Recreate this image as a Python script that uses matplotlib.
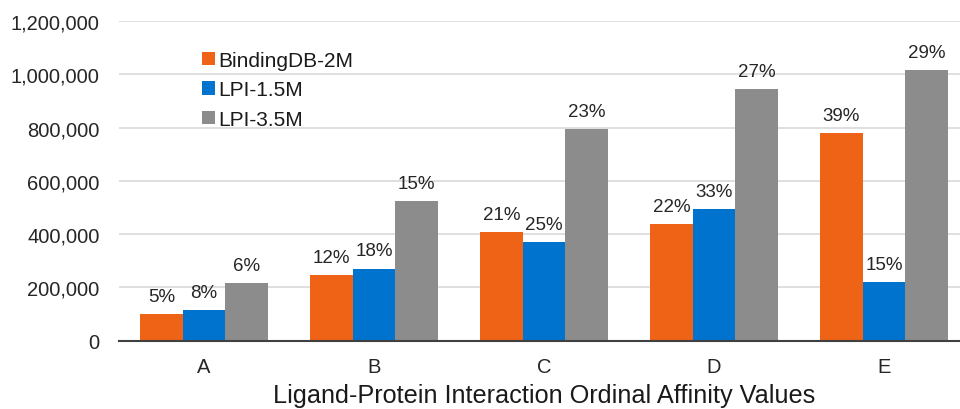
import numpy as np
import matplotlib
matplotlib.use('Agg')
import matplotlib.pyplot as plt
from matplotlib.patches import Patch
from matplotlib.ticker import FuncFormatter

plt.rcParams['font.family'] = ['Liberation Sans', 'DejaVu Sans']

# data
categories = ['A', 'B', 'C', 'D', 'E']
series_names = ['BindingDB-2M', 'LPI-1.5M', 'LPI-3.5M']
bindingdb_2m = [99000, 245000, 409000, 437000, 779000]
lpi_1_5m = [114000, 271000, 371000, 493000, 220000]
lpi_3_5m = [216000, 525000, 796000, 943000, 1016000]
bindingdb_pct = ['5%', '12%', '21%', '22%', '39%']
lpi_1_5m_pct = ['8%', '18%', '25%', '33%', '15%']
lpi_3_5m_pct = ['6%', '15%', '23%', '27%', '29%']

colors = ['#EE6316', '#0073CF', '#8C8C8C']

W, H = 960, 410
fig = plt.figure(figsize=(W / 100, H / 100), dpi=100)
left, right, top, bottom = 119, 969, 22, 341.7
ax = fig.add_axes([left / W, 1 - bottom / H, (right - left) / W, (bottom - top) / H])

x = np.arange(len(categories))
w = 0.25
series = [bindingdb_2m, lpi_1_5m, lpi_3_5m]
pcts = [bindingdb_pct, lpi_1_5m_pct, lpi_3_5m_pct]
for i, (vals, labs) in enumerate(zip(series, pcts)):
    bars = ax.bar(x + (i - 1) * w, vals, width=w, color=colors[i], zorder=3)
    ax.bar_label(bars, labels=labs, padding=6.5, fontsize=13.5, color='#262626')

ax.set_xlim(-0.5, 4.5)
ax.set_ylim(0, 1200000)
ax.set_yticks(np.arange(0, 1200001, 200000))
ax.yaxis.set_major_formatter(FuncFormatter(lambda v, p: f'{int(v):,}'))
ax.set_xticks(x)
ax.set_xticklabels(categories)
ax.tick_params(axis='both', length=0, labelsize=14.5, colors='#262626')
ax.tick_params(axis='x', pad=12)
ax.tick_params(axis='y', pad=14)
ax.grid(axis='y', color='#D9D9D9', linewidth=1.2, zorder=0)
for s in ['top', 'right', 'left']:
    ax.spines[s].set_visible(False)
ax.spines['bottom'].set_color('#404040')
ax.spines['bottom'].set_linewidth(1.5)
ax.spines['bottom'].set_zorder(4)

ax.set_xlabel('Ligand-Protein Interaction Ordinal Affinity Values', fontsize=18.2, color='#1a1a1a', labelpad=5)

handles = [Patch(facecolor=c, edgecolor='none') for c in colors]
fig.legend(handles, series_names, loc='upper left', bbox_to_anchor=(202 / W, 1 - 52 / H),
           frameon=False, fontsize=15, handlelength=0.6, handleheight=0.6, handletextpad=0.2,
           labelspacing=0.5, borderpad=0, borderaxespad=0, labelcolor='#1a1a1a')

fig.savefig('out.png', dpi=100)
